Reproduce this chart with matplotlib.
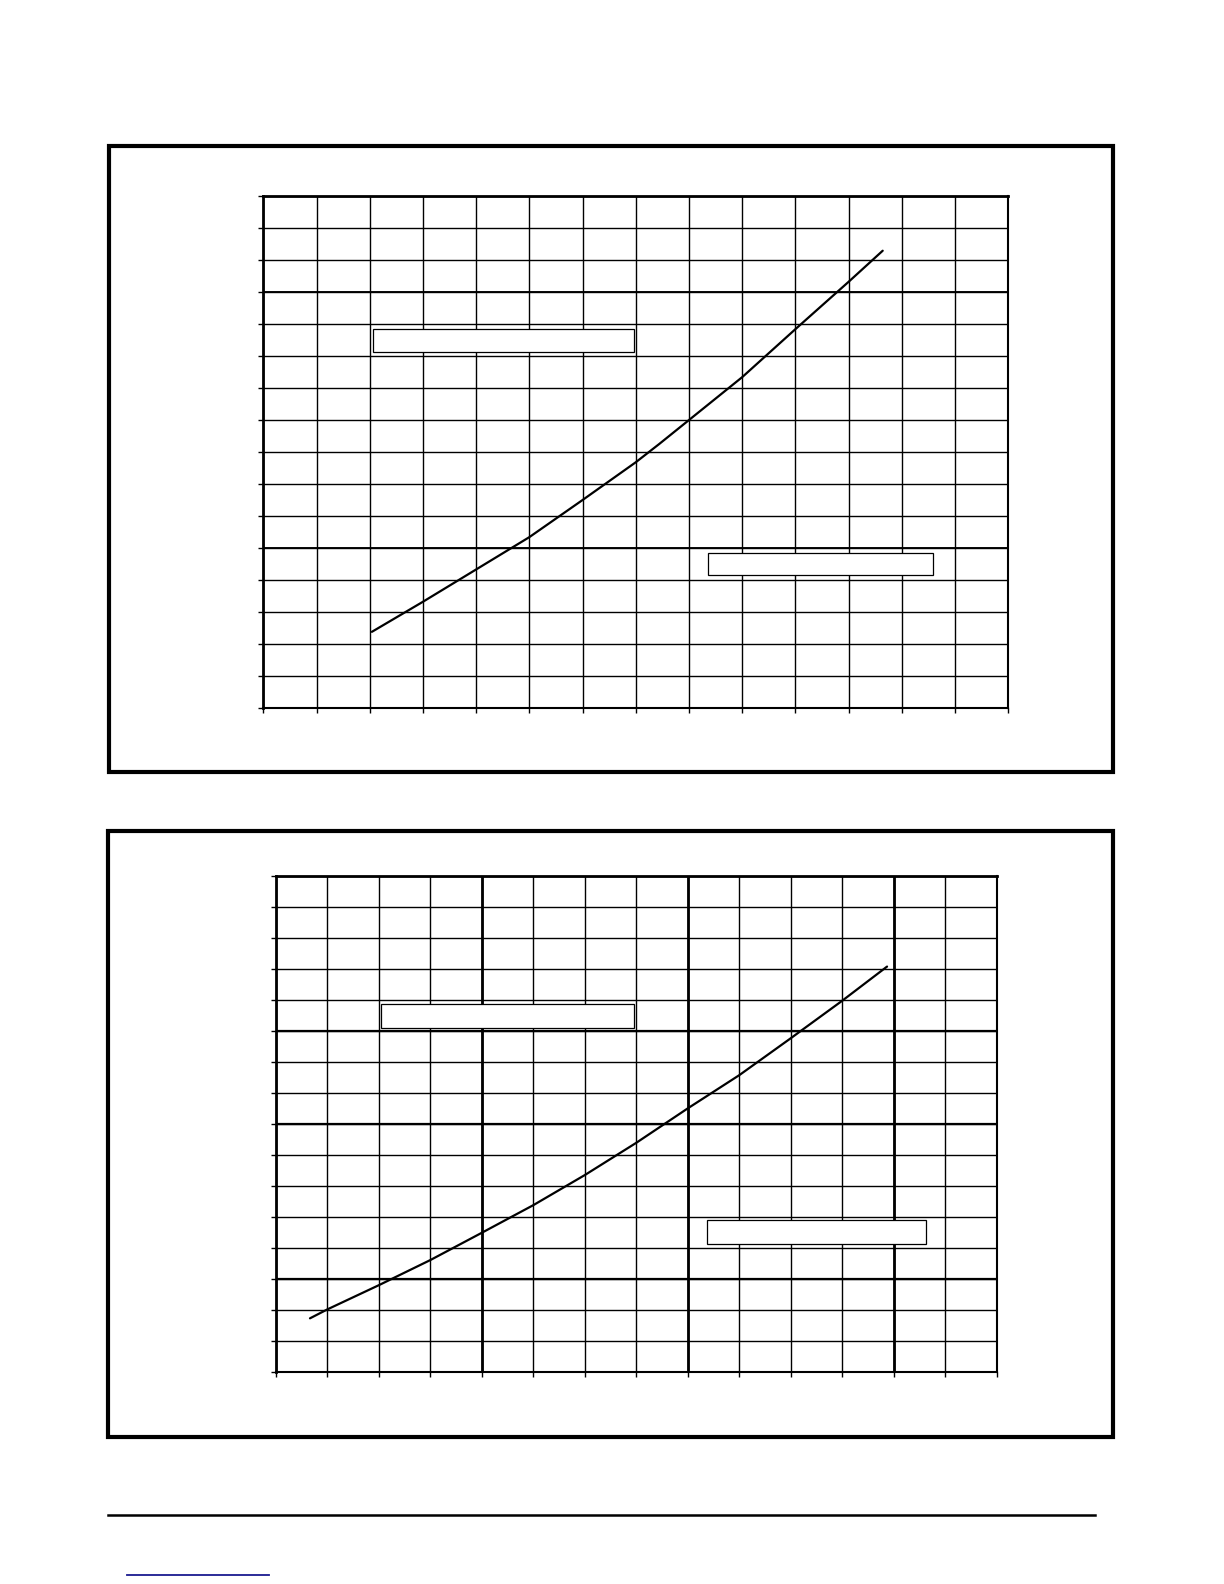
import matplotlib
matplotlib.use("Agg")
import matplotlib.pyplot as plt
from matplotlib.patches import Rectangle
from matplotlib.lines import Line2D

# curva do grafico superior (unidades de grade)
top_x = [2.04, 3, 4, 5, 6, 7, 7.44, 8, 9, 10, 11, 11.64]
top_y = [2.38, 3.32, 4.33, 5.34, 6.5, 7.68, 8.25, 9.0, 10.34, 11.84, 13.32, 14.29]
# caixas vazias (x0, x1, y0, y1)
top_boxes = [(2.06, 6.96, 11.13, 11.83), (8.36, 12.59, 4.15, 4.85)]
top_thick_y = [5, 13]
top_thick_x = []

# curva do grafico inferior
bot_x = [0.66, 1, 2, 3, 4, 5, 6, 7, 8, 9, 10, 11, 11.87]
bot_y = [1.74, 2.03, 2.81, 3.62, 4.5, 5.39, 6.36, 7.40, 8.51, 9.58, 10.77, 11.98, 13.08]
bot_boxes = [(2.03, 6.95, 11.11, 11.86), (8.38, 12.62, 4.15, 4.90)]
bot_thick_y = [3, 8, 11]
bot_thick_x = [4, 8, 12]

ncols, nrows = 14, 16

W, H = 1224, 1584
fig = plt.figure(figsize=(W / 100, H / 100), dpi=100)


def px_rect(x0, y0, x1, y1):
    # pixel box (top-left origin) -> figure fraction
    return [x0 / W, 1 - y1 / H, (x1 - x0) / W, (y1 - y0) / H]


def draw_grid(rect, xs, ys, boxes, thick_x, thick_y):
    ax = fig.add_axes(rect)
    ax.set_xlim(0, ncols)
    ax.set_ylim(0, nrows)
    ax.set_xticks(range(ncols + 1))
    ax.set_yticks(range(nrows + 1))
    ax.set_xticklabels([])
    ax.set_yticklabels([])
    ax.tick_params(length=3.5, width=1.0, color="black")
    ax.grid(True, color="black", lw=1.0)
    ax.set_axisbelow(True)
    for v in thick_x:
        ax.axvline(v, color="black", lw=2.0, zorder=1)
    for h in thick_y:
        ax.axhline(h, color="black", lw=1.6 if thick_x else 1.35, zorder=1)
    for side in ["left", "top"]:
        ax.spines[side].set_linewidth(2.0)
    for side in ["right", "bottom"]:
        ax.spines[side].set_linewidth(1.5)
    for x0, x1, y0, y1 in boxes:
        ax.add_patch(Rectangle((x0, y0), x1 - x0, y1 - y0, facecolor="white",
                               edgecolor="black", lw=0.9, zorder=3))
    ax.plot(xs, ys, color="black", lw=1.6, zorder=4,
            solid_joinstyle="round", solid_capstyle="round")
    return ax


def frame(x0, y0, x1, y1):
    r = px_rect(x0, y0, x1, y1)
    fig.add_artist(Rectangle((r[0], r[1]), r[2], r[3], transform=fig.transFigure,
                             fill=False, edgecolor="black", lw=3.0))


frame(109, 145.5, 1113, 771.5)
frame(108, 830.5, 1113, 1437)

draw_grid(px_rect(263.3, 196, 1008.3, 708), top_x, top_y, top_boxes, top_thick_x, top_thick_y)
draw_grid(px_rect(276, 876, 996.7, 1372.3), bot_x, bot_y, bot_boxes, bot_thick_x, bot_thick_y)

# linha de rodape e sublinhado azul
fig.add_artist(Line2D([108 / W, 1095 / W], [1 - 1515 / H] * 2, transform=fig.transFigure,
                      color="black", lw=1.8))
fig.add_artist(Line2D([127 / W, 269 / W], [1 - 1575 / H] * 2, transform=fig.transFigure,
                      color="#1a1a90", lw=1.3))

fig.savefig("out.png", dpi=100, facecolor="white")
